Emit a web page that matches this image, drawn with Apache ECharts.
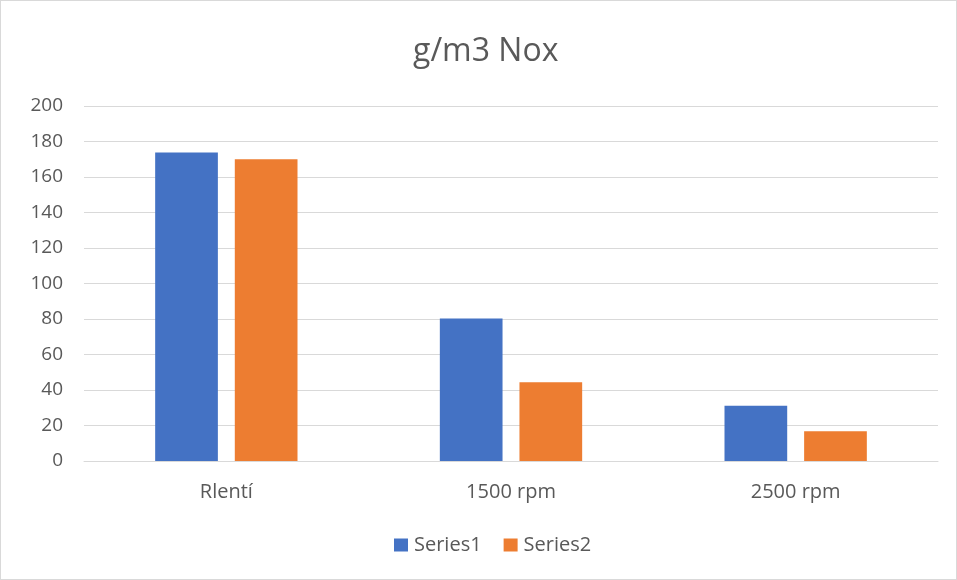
<!DOCTYPE html>
<html>
<head>
<meta charset="utf-8">
<script src="https://cdn.jsdelivr.net/npm/echarts@6/dist/echarts.min.js"></script>
<style>
  html, body { margin: 0; padding: 0; background: #fff; }
  #chart { width: 957px; height: 580px; box-sizing: border-box; border: 1px solid #D9D9D9; }
</style>
</head>
<body>
<div id="chart"></div>
<script>
const categories = ['Rlentí', '1500 rpm', '2500 rpm'];
const series1 = [173.8, 80.3, 31.1];
const series2 = [170.0, 44.3, 16.8];
const yTicks = { min: 0, max: 200, interval: 20 };

const textColor = '#595959';
const font = 'Open Sans';

const chart = echarts.init(document.getElementById('chart'), null, { renderer: 'canvas' });
chart.setOption({
  animation: false,
  title: {
    text: 'g/m3 Nox',
    left: 412,
    top: 35,
    padding: 0,
    textStyle: { fontFamily: font, fontSize: 32, fontWeight: 'normal', color: textColor }
  },
  legend: {
    bottom: 19,
    left: 388,
    itemWidth: 14,
    itemHeight: 13,
    itemGap: 22,
    icon: 'rect',
    textStyle: { fontFamily: font, fontSize: 20, color: textColor, padding: [0, 0, 0, 1] }
  },
  grid: { left: 83, right: 18, top: 105, bottom: 118, containLabel: false },
  xAxis: {
    type: 'category',
    data: categories,
    axisLine: { lineStyle: { color: '#D9D9D9', width: 1 } },
    axisTick: { show: false },
    axisLabel: { fontFamily: font, fontSize: 20, color: textColor, margin: 21 }
  },
  yAxis: {
    type: 'value',
    min: yTicks.min,
    max: yTicks.max,
    interval: yTicks.interval,
    axisLine: { show: false },
    axisTick: { show: false },
    splitLine: { lineStyle: { color: '#D9D9D9', width: 1 } },
    axisLabel: { fontFamily: font, fontSize: 19, color: textColor, margin: 21 }
  },
  series: [
    {
      name: 'Series1', type: 'bar', data: series1,
      itemStyle: { color: '#4472C4' },
      barGap: '27%', barCategoryGap: '50%'
    },
    {
      name: 'Series2', type: 'bar', data: series2,
      itemStyle: { color: '#ED7D31' },
      barGap: '27%', barCategoryGap: '50%'
    }
  ]
});
</script>
</body>
</html>
